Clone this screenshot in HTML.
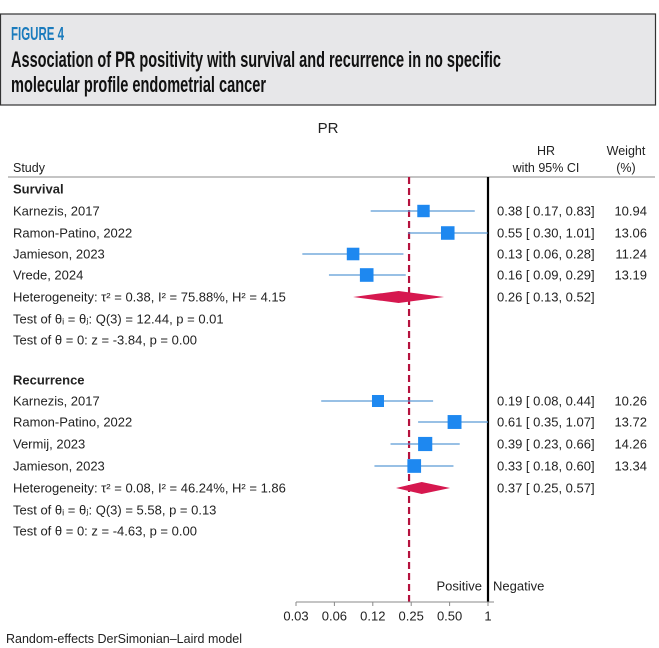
<!DOCTYPE html>
<html><head><meta charset="utf-8"><style>
body{margin:0;background:#fff;}
svg{display:block;font-family:"Liberation Sans",Arial,sans-serif;}
</style></head><body>
<svg id="c" width="659" height="648" viewBox="0 0 659 648" xmlns="http://www.w3.org/2000/svg">
<rect x="0.5" y="14" width="655" height="91" fill="#e7e7e9" stroke="#333" stroke-width="1.2"/>
<text x="11" y="40" fill="#1a7bbd" font-family="'Liberation Sans Narrow','Liberation Sans',sans-serif" font-weight="bold" font-size="18" textLength="53" lengthAdjust="spacingAndGlyphs">FIGURE 4</text>
<text x="11" y="67" fill="#111" font-family="'Liberation Sans Narrow','Liberation Sans',sans-serif" font-weight="bold" font-size="22" textLength="490" lengthAdjust="spacingAndGlyphs">Association of PR positivity with survival and recurrence in no specific</text>
<text x="11" y="92" fill="#111" font-family="'Liberation Sans Narrow','Liberation Sans',sans-serif" font-weight="bold" font-size="22" textLength="255" lengthAdjust="spacingAndGlyphs">molecular profile endometrial cancer</text>
<text x="328" y="133" font-size="15" text-anchor="middle" fill="#222">PR</text>
<text x="13" y="172" font-size="12.5" fill="#222">Study</text>
<text x="546" y="155" font-size="12.5" fill="#222" text-anchor="middle">HR</text>
<text x="546" y="172" font-size="12.5" fill="#222" text-anchor="middle">with 95% CI</text>
<text x="626" y="155" font-size="12.5" fill="#222" text-anchor="middle">Weight</text>
<text x="626" y="172" font-size="12.5" fill="#222" text-anchor="middle">(%)</text>
<line x1="8" y1="177" x2="655" y2="177" stroke="#888" stroke-width="1"/>
<g id="plot"></g>
<text x="6" y="643" font-size="12.5" fill="#222">Random-effects DerSimonian–Laird model</text>
</svg>
<script>
// data
const studies = ["Karnezis, 2017","Ramon-Patino, 2022","Jamieson, 2023","Vrede, 2024","Karnezis, 2017","Ramon-Patino, 2022","Vermij, 2023","Jamieson, 2023"];
const hr = [0.38,0.55,0.13,0.16,0.19,0.61,0.39,0.33];
const lo = [0.17,0.30,0.06,0.09,0.08,0.35,0.23,0.18];
const hi = [0.83,1.01,0.28,0.29,0.44,1.07,0.66,0.60];
const weights = [10.94,13.06,11.24,13.19,10.26,13.72,14.26,13.34];
const rowY = [211,233,254,275,401,422,444,466];
const pooledHR = [0.26,0.37];
const pooledLo = [0.13,0.25];
const pooledHi = [0.52,0.57];
const pooledY = [297,488];
const tickLabels = ["0.03","0.06","0.12","0.25","0.50","1"];
const tickVals = [0.03125,0.0625,0.125,0.25,0.5,1];
const refValue = 0.305;

const NS = "http://www.w3.org/2000/svg";
const g = document.getElementById('plot');
function x(v){ return 487 + 45.5*Math.log2(v); }
function tx(v){ return 488 + 38.4*Math.log2(v); }
function mk(tag, attrs, text){
  const e = document.createElementNS(NS, tag);
  for (const k in attrs) e.setAttribute(k, attrs[k]);
  if (text !== undefined) e.textContent = text;
  g.appendChild(e); return e;
}
function fmt(v){ return v.toFixed(2); }
function t(xp, y, s, anchor, name, bold){
  const e = mk('text', {x:xp, y:y+4.5, 'font-size':13, fill:'#222', 'text-anchor':anchor||'start', 'font-weight':bold?'bold':'normal'}, s);
  
  
  return e;
}
let l = mk('line',{x1:x(refValue),y1:177,x2:x(refValue),y2:602,stroke:'#b5123e','stroke-width':2.2,'stroke-dasharray':'7,4'});


l = mk('line',{x1:tx(1),y1:177,x2:tx(1),y2:602,stroke:'#000','stroke-width':2.2});



t(13,189,'Survival','start','survival-header',true);
t(13,380,'Recurrence','start','recurrence-header',true);

for (let i=0;i<studies.length;i++){
  const y = rowY[i];
  t(13,y,studies[i],'start','study-label');
  const ln = mk('line',{x1:x(lo[i]),y1:y,x2:Math.min(x(hi[i]),tx(1)),y2:y,stroke:'#5b9bd5','stroke-width':1.3});
  
  
  const s = 3.75*Math.sqrt(weights[i]);
  const r = mk('rect',{x:x(hr[i])-s/2,y:y-s/2,width:s,height:s,fill:'#1e88f0'});
  
  
  const hs = fmt(hr[i])+' [ '+fmt(lo[i])+', '+fmt(hi[i])+']';
  t(497,y,hs,'start','hr-value');
  t(647,y,weights[i].toFixed(2),'end','weight-value');
}
const hetero = ['Heterogeneity: τ² = 0.38, I² = 75.88%, H² = 4.15','Heterogeneity: τ² = 0.08, I² = 46.24%, H² = 1.86'];
const testA = ['Test of θᵢ = θⱼ: Q(3) = 12.44, p = 0.01','Test of θᵢ = θⱼ: Q(3) = 5.58, p = 0.13'];
const testB = ['Test of θ = 0: z = -3.84, p = 0.00','Test of θ = 0: z = -4.63, p = 0.00'];
for (let j=0;j<2;j++){
  const y = pooledY[j];
  t(13,y,hetero[j],'start','heterogeneity-stats');
  t(13,y+22,testA[j],'start','homogeneity-test');
  t(13,y+43,testB[j],'start','overall-effect-test');
  const d = mk('polygon',{points:[x(pooledLo[j])+','+y, x(pooledHR[j])+','+(y-6), x(pooledHi[j])+','+y, x(pooledHR[j])+','+(y+6)].join(' '), fill:'#d6184f'});
  
  
  t(497,y,fmt(pooledHR[j])+' [ '+fmt(pooledLo[j])+', '+fmt(pooledHi[j])+']','start','pooled-hr-value');
}
const ax = mk('line',{x1:tx(tickVals[0]),y1:602,x2:494,y2:602,stroke:'#888','stroke-width':1});


for (let k=0;k<tickVals.length;k++){
  const xp = tx(tickVals[k]);
  const tk = mk('line',{x1:xp,y1:602,x2:xp,y2:606,stroke:'#888','stroke-width':1});
  
  
  t(xp,616,tickLabels[k],'middle','x-tick-label');
}
t(482,586,'Positive','end','positive-label');
t(493,586,'Negative','start','negative-label');
</script>
</body></html>
